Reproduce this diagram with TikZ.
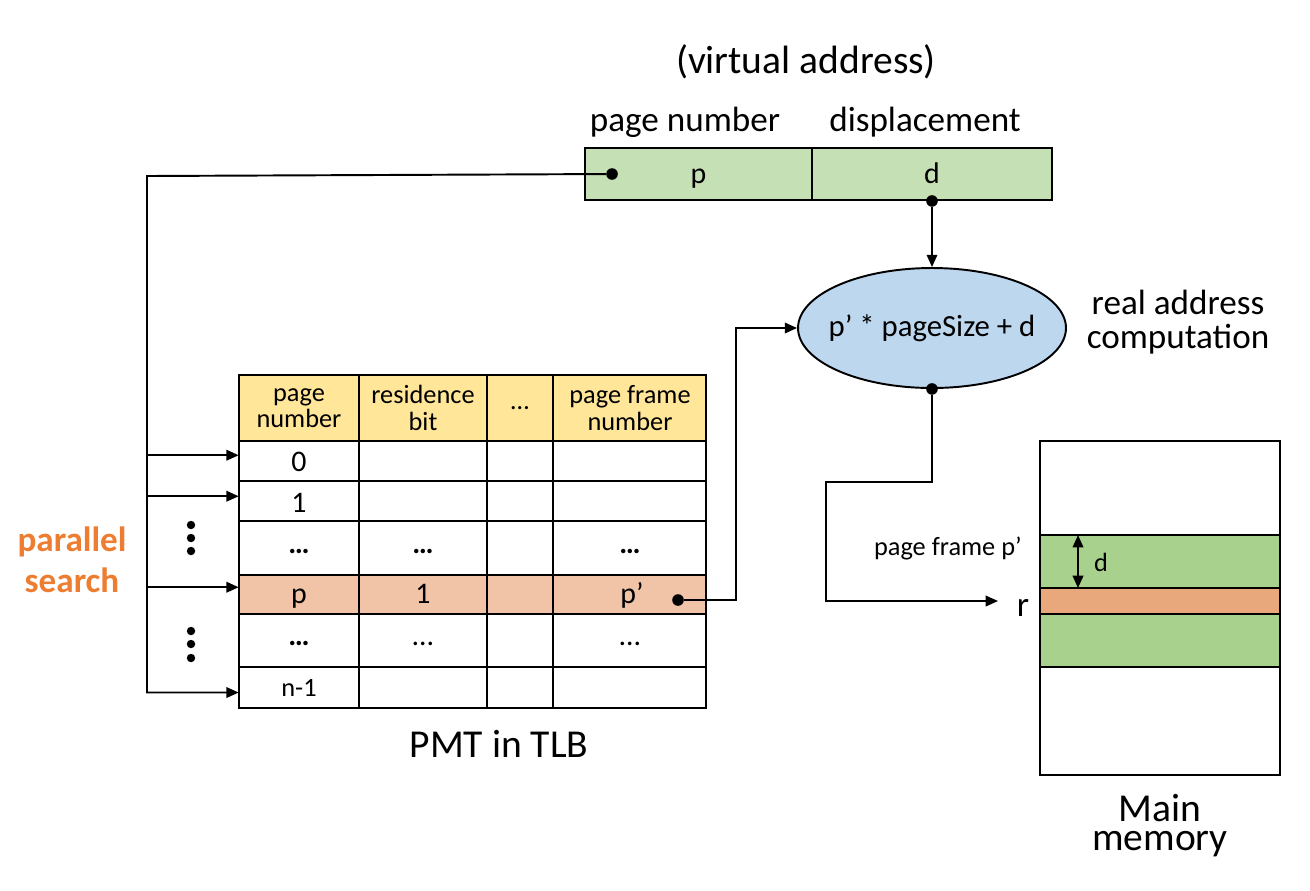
\documentclass[tikz,border=0pt]{standalone}
\usepackage{fontspec}
\setmainfont{Carlito}
\usepackage{tikz}
\usepackage{xcolor}
\usetikzlibrary{shapes.geometric, arrows.meta, positioning}
\definecolor{addrgreen}{RGB}{197, 224, 180}
\definecolor{calcblue}{RGB}{189, 215, 238}
\definecolor{hdryellow}{RGB}{255, 230, 153}
\definecolor{rowpeach}{RGB}{241, 196, 167}
\definecolor{memgreen}{RGB}{169, 209, 142}
\definecolor{memorange}{RGB}{233, 168, 124}
\definecolor{searchorange}{RGB}{237, 125, 49}

\begin{document}
\begin{tikzpicture}[
    x=0.02cm, y=-0.02cm,
    bigtext/.style={
        font=\fontsize{22.5}{19}\selectfont,
        inner sep=0pt
    },
    midtext/.style={
        font=\fontsize{20}{19}\selectfont,
        align=center
    },
    valtext/.style={
        font=\fontsize{17}{17}\selectfont,
        inner sep=0pt,
        text height=12pt,
        text depth=3.4pt
    },
    smalltext/.style={
        font=\fontsize{15}{15}\selectfont,
        align=center,
        inner sep=0pt
    },
    keycell/.style={
        valtext,
        minimum width=2.4cm
    },
    addrcell/.style={
        rectangle,
        draw=black,
        line width=1.1pt,
        fill=addrgreen,
        minimum height=1.04cm,
        inner sep=0pt,
        text height=13pt,
        text depth=2pt,
        font=\fontsize{17}{17}\selectfont
    },
    grid/.style={
        line width=1.2pt
    },
    wire/.style={
        line width=1.1pt
    },
    link/.style={
        wire,
        -{Triangle[length=7pt, width=6pt]}
    },
    dot/.style={
        circle,
        fill=black,
        inner sep=0pt,
        minimum size=6.6pt
    }
]

\useasboundingbox (0,0) rectangle (1310,890);

% Virtual address
\node[bigtext] (vatitle) at (806,62) {(virtual address)};
\node[midtext] (pnlabel) at (685,122) {page number};
\node[midtext] (displabel) at (925,122) {displacement};
\node[addrcell, minimum width=4.54cm] (pcell) at (698.5,174) {p};
\node[addrcell, minimum width=4.8cm] (dcell) at (932,174) {d};

% Real address computation
\node[ellipse, draw=black, line width=1.1pt, fill=calcblue,
      minimum width=5.36cm, minimum height=2.4cm, inner sep=0pt,
      font=\fontsize{17.5}{17.5}\selectfont] (calc) at (932,328) {\makebox[0pt]{p’ * pageSize + d}};
\node[midtext] (calclabel) at (1178,322) {real address\\computation};

% PMT in TLB
\fill[hdryellow] (239,375) rectangle (706,441);
\fill[rowpeach] (239,575) rectangle (706,614);
\foreach \y in {441,481,521,575,614,667}
    \draw[grid] (239,\y) -- (706,\y);
\foreach \x in {359,487,553}
    \draw[grid] (\x,375) -- (\x,708);
\draw[grid] (239,375) rectangle (706,708);

\foreach \n/\x/\t in {hdrpage/299/{page\\number}, hdrres/423/{residence\\bit}, hdrmore/520/{…}, hdrframe/630/{page frame\\number}}
    \node[smalltext] (\n) at (\x,408) {\t};

\foreach \n/\y/\t in {pn0/464/0, pn1/505/1, pndots/546/{\textbf{…}}, pnp/596/p, pndotss/638/{\textbf{…}}}
    \node[keycell] (\n) at (299,\y) {\t};
\node[keycell, font=\fontsize{15}{15}\selectfont] (pnlast) at (299,689) {n-1};

\node[valtext] (rbdots) at (423,546) {\textbf{…}};
\node[valtext] (rbp) at (423,596) {1};
\node[valtext] (rbdotss) at (423,638) {…};
\node[valtext] (pfdots) at (630,546) {\textbf{…}};
\node[valtext] (pfp) at (632,596) {p’};
\node[valtext] (pfdotss) at (630,638) {…};
\node[bigtext] (pmtlabel) at (499,744) {PMT in TLB};

% Parallel search
\node[font=\bfseries\fontsize{20}{23.5}\selectfont, text=searchorange, align=center] (search) at (72,560) {parallel\\search};
\foreach \y in {525,538,551,631,644,658}
    \fill (191,\y) circle[radius=2.4pt];

% Main memory
\draw[grid] (1040,441) rectangle (1280,775);
\filldraw[grid, fill=memgreen] (1040,535) rectangle (1280,667);
\filldraw[grid, fill=memorange] (1040,588) rectangle (1280,614);
\node[bigtext] (memtop) at (1160,808) {Main};
\node[bigtext] (membottom) at (1160,844) {memory};
\node[smalltext, anchor=east] (framelabel) at (1022,548) {page frame p’};
\draw[wire, {Triangle[length=7pt, width=6pt]}-{Triangle[length=7pt, width=6pt]}] (1078,535) -- (1078,588);
\node[smalltext] (offlabel) at (1101,562) {d};
\node[midtext] (rlabel) at (1023,608) {r};

% Connectors
\coordinate (bus) at (147,176);
\coordinate (bend) at (736,0);
\coordinate (jog) at (826,482);
\coordinate (rin) at (998,601);
\node[dot] (pdot) at (612,174) {};
\node[dot] (ddot) at (dcell.south) {};
\node[dot] (pfdot) at (678,600) {};
\node[dot] (resdot) at (calc.south) {};

\draw[link] (pdot) -- (bus) |- ([yshift=-2pt]pnlast.west);
\foreach \n in {pn0,pn1,pnp}
    \draw[link] ([yshift=5pt]\n.west -| bus) -- ([yshift=5pt]\n.west);
\draw[link] (ddot) -- (calc.north);
\draw[link] (pfdot) -| (bend |- calc.west) -- (calc.west);
\draw[link] (resdot) |- (jog) |- (rin);

\end{tikzpicture}
\end{document}
